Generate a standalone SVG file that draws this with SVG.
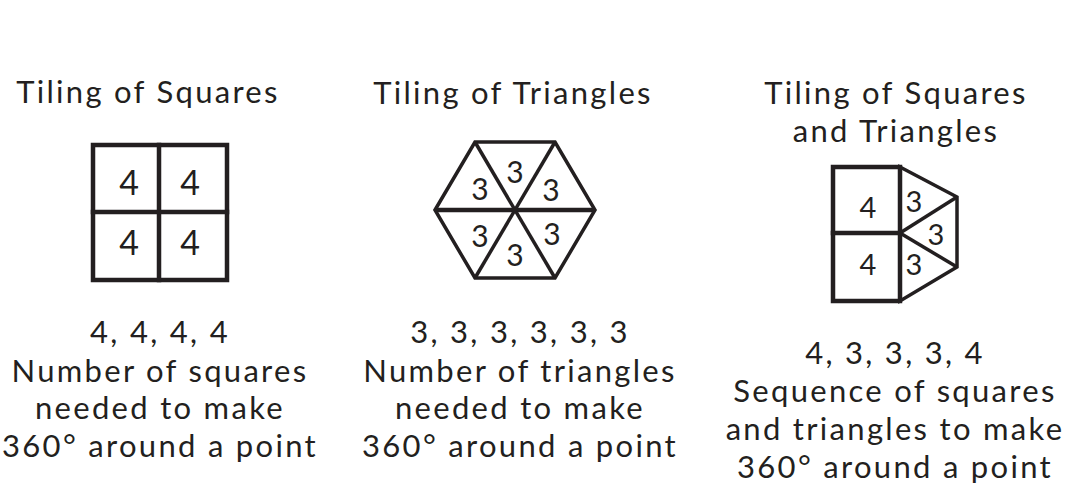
<svg xmlns="http://www.w3.org/2000/svg" width="1076" height="490" viewBox="0 0 1076 490">
<style>
text{font-family:"Lato","Liberation Sans",sans-serif;fill:#231f20;text-anchor:middle}
.t{font-size:31px;letter-spacing:2.3px}
.n{font-size:34px}
.h{font-size:30px}
.s{font-size:29px}
.thick{fill:none;stroke:#231f20;stroke-width:4.5;stroke-linejoin:miter;stroke-linecap:square}
.thin{fill:none;stroke:#231f20;stroke-width:3.5;stroke-linejoin:miter}
</style>
<rect width="1076" height="490" fill="#fff"/>
<g id="squares">
<text class="t" x="148" y="103">Tiling of Squares</text>
<rect class="thick" x="93" y="145" width="134" height="135"/>
<line class="thick" x1="159" y1="145" x2="159" y2="280"/>
<line class="thick" x1="93" y1="212" x2="227" y2="212"/>
<text class="n" x="129" y="195">4</text>
<text class="n" x="190" y="195">4</text>
<text class="n" x="129" y="255">4</text>
<text class="n" x="190" y="255">4</text>
<text class="t" x="160" y="343">4, 4, 4, 4</text>
<text class="t" x="160" y="382">Number of squares</text>
<text class="t" x="160" y="419">needed to make</text>
<text class="t" x="160" y="457">360° around a point</text>
</g>
<g id="triangles">
<text class="t" x="513" y="104">Tiling of Triangles</text>
<polygon class="thin" points="435,210 475,142 555,142 595,210 555,278 475,278"/>
<line class="thin" x1="435" y1="210" x2="595" y2="210" style="stroke-width:4.5"/>
<line class="thin" x1="475" y1="142" x2="555" y2="278"/>
<line class="thin" x1="555" y1="142" x2="475" y2="278"/>
<text class="h" x="480" y="200">3</text>
<text class="h" x="515" y="183">3</text>
<text class="h" x="551" y="201">3</text>
<text class="h" x="480" y="247">3</text>
<text class="h" x="515" y="266">3</text>
<text class="h" x="552" y="245">3</text>
<text class="t" x="520" y="343">3, 3, 3, 3, 3, 3</text>
<text class="t" x="520" y="382">Number of triangles</text>
<text class="t" x="520" y="419">needed to make</text>
<text class="t" x="520" y="457">360° around a point</text>
</g>
<g id="mixed">
<text class="t" x="896" y="104">Tiling of Squares</text>
<text class="t" x="896" y="142">and Triangles</text>
<polygon class="thin" points="900,167 957,197 957,267 900,301"/>
<line class="thin" x1="900" y1="233" x2="957" y2="197"/>
<line class="thin" x1="900" y1="233" x2="957" y2="267"/>
<rect class="thick" x="833" y="167" width="67" height="134"/>
<line class="thick" x1="833" y1="233" x2="900" y2="233"/>
<text class="s" x="868" y="218">4</text>
<text class="s" x="868" y="275">4</text>
<text class="s" x="914" y="212">3</text>
<text class="s" x="936" y="245">3</text>
<text class="s" x="914" y="275">3</text>
<text class="t" x="895" y="364">4, 3, 3, 3, 4</text>
<text class="t" x="895" y="402">Sequence of squares</text>
<text class="t" x="895" y="440">and triangles to make</text>
<text class="t" x="895" y="478">360° around a point</text>
</g>
</svg>
